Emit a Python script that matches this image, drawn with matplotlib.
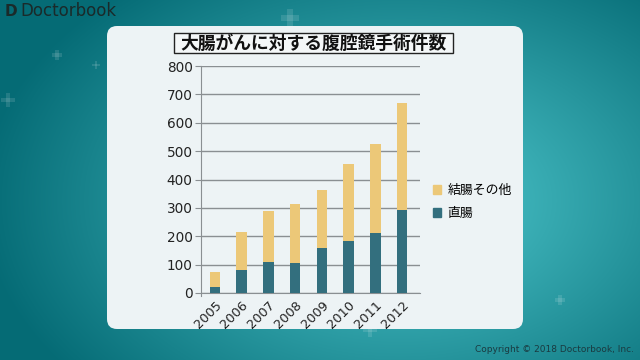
import numpy as np
import matplotlib
matplotlib.use("Agg")
import matplotlib.pyplot as plt
from matplotlib.patches import FancyBboxPatch, Rectangle, Patch

plt.rcParams['font.family'] = ['Noto Sans CJK JP', 'DejaVu Sans']

years = ["2005", "2006", "2007", "2008", "2009", "2010", "2011", "2012"]
rectum = [22, 81, 111, 107, 160, 184, 211, 293]
colon_other = [52, 134, 177, 208, 202, 272, 313, 375]
title = "大腸がんに対する腹腔鏡手術件数"
labels = ["結腸その他", "直腸"]
yticks = [0, 100, 200, 300, 400, 500, 600, 700, 800]

gold = "#ECC878"
teal = "#336F7E"

fig = plt.figure(figsize=(6.4, 3.6), dpi=100)

# background gradient
bg = fig.add_axes([0, 0, 1, 1])
yy, xx = np.mgrid[0:360, 0:640]
d = np.sqrt(((xx - 400) / 420.0) ** 2 + ((yy - 200) / 280.0) ** 2)
d = np.clip(d, 0, 1)
c0 = np.array([0.32, 0.80, 0.82])
c1 = np.array([0.02, 0.42, 0.46])
img = c0[None, None, :] * (1 - d[..., None]) + c1[None, None, :] * d[..., None]
bg.imshow(img, extent=[0, 640, 360, 0], aspect='auto')
bg.set_xlim(0, 640)
bg.set_ylim(360, 0)
bg.axis('off')

# faint plus signs
for (px, py, s) in [(290, 18, 9), (57, 55, 5), (96, 65, 4), (8, 100, 7), (145, 105, 8), (490, 80, 6),
                    (462, 100, 6), (560, 300, 5), (240, 300, 5), (370, 330, 7), (470, 120, 5)]:
    bg.add_patch(Rectangle((px - s, py - s / 3), 2 * s, 2 * s / 3, color='white', alpha=0.12, lw=0))
    bg.add_patch(Rectangle((px - s / 3, py - s), 2 * s / 3, 2 * s, color='white', alpha=0.12, lw=0))

# panel
bg.add_patch(FancyBboxPatch((107, 26), 416, 303, boxstyle="round,pad=0,rounding_size=10",
                            fc="#EDF3F5", ec="none", lw=0))
# title box
bg.add_patch(Rectangle((174, 33), 279, 20, fc="#F4F7F8", ec="#222222", lw=1.0))
bg.text(313.5, 43.5, title, ha='center', va='center', fontsize=12.8, fontweight='bold', color='#111111')

# logo & copyright
bg.text(5, 11, "D", ha='left', va='center', fontsize=11, fontweight='bold', color='#1a2a2a', family='DejaVu Sans')
bg.text(20, 11, "Doctorbook", ha='left', va='center', fontsize=12, color='#1a2a2a', family='DejaVu Sans')
bg.text(634, 350, "Copyright © 2018 Doctorbook, Inc.", ha='right', va='center', fontsize=6.5,
        color='#1a3a40', family='DejaVu Sans')

# chart
ax = fig.add_axes([201 / 640, 1 - 293 / 360, (420 - 201) / 640, (293 - 66) / 360])
ax.set_facecolor('none')
x = np.arange(len(years))
b1 = ax.bar(x, rectum, width=0.4, color=teal, zorder=3)
b2 = ax.bar(x, colon_other, width=0.4, bottom=rectum, color=gold, zorder=3)
ax.set_xlim(-0.52, 7.67)
ax.set_ylim(0, 800)
ax.set_yticks(yticks)
ax.set_yticklabels([str(v) for v in yticks], fontsize=9.8, color='#222222', family='DejaVu Sans')
ax.yaxis.grid(True, color='#8A8F92', lw=1.0, zorder=0)
ax.set_xticks(x)
ax.set_xticklabels(years, rotation=45, ha='right', va='top', rotation_mode='anchor', fontsize=9.3,
                   color='#222222', family='DejaVu Sans')
ax.tick_params(axis='x', length=0, pad=4)
ax.tick_params(axis='y', length=4, color='#8A8F92', pad=2)
for s in ['top', 'right']:
    ax.spines[s].set_visible(False)
ax.spines['left'].set_color('#8A8F92')
ax.spines['bottom'].set_color('#8A8F92')
ax.spines['left'].set_bounds(-12, 800)

handles = [Patch(color=gold), Patch(color=teal)]
fig.legend(handles, labels, loc='center left', bbox_to_anchor=(421 / 640, 1 - 202 / 360), frameon=False,
           fontsize=9.3, handlelength=0.65, handleheight=0.65, handletextpad=0.5, labelspacing=0.75)

fig.savefig("out.png", dpi=100)
